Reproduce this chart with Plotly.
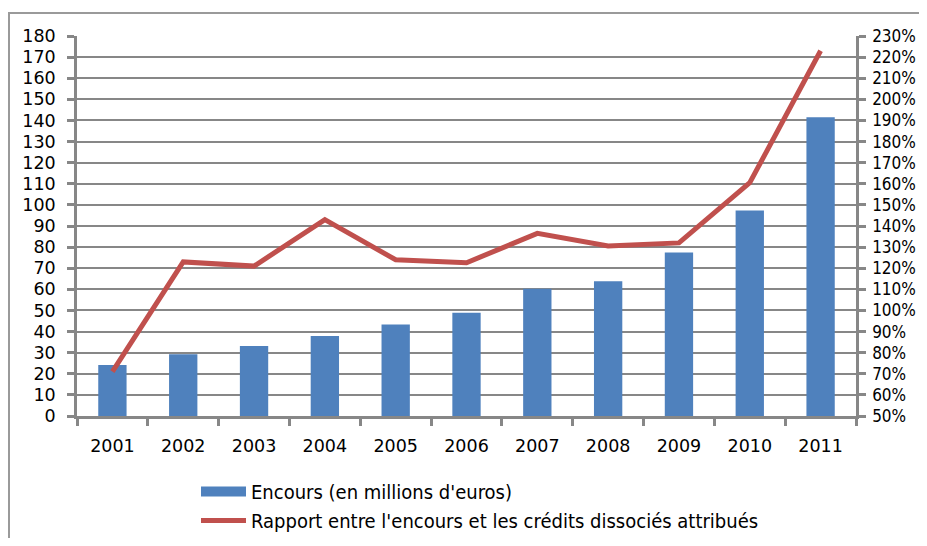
import plotly.graph_objects as go

years = ["2001", "2002", "2003", "2004", "2005", "2006", "2007", "2008", "2009", "2010", "2011"]
encours = [24.2, 29.2, 33.2, 37.9, 43.4, 48.9, 60.3, 63.8, 77.5, 97.3, 141.5]
rapport = [71, 123, 121, 143, 124, 122.6, 136.5, 130.5, 132, 160.5, 223]

# the page body has an 8px default margin; keep the figure inside the window (no scrollbars)
OFF = 8
W, H = 927 - 2 * OFF, 546 - 2 * OFF
PL, PR, PT, PB = 77, 856, 36, 416          # plot area in window pixels
L, T = PL - OFF, PT - OFF
pw, ph = PR - PL, PB - PT
R, B = W - L - pw, H - T - ph

grid = "#878787"
font = "DejaVu Sans, Verdana, sans-serif"
condfont = "DejaVu Sans Condensed, Liberation Sans Narrow, DejaVu Sans"
bar_color = "#4F81BD"
line_color = "#C0504D"

fig = go.Figure()
fig.add_trace(go.Bar(x=years, y=encours, name="Encours (en millions d'euros)",
                     marker=dict(color=bar_color, line=dict(width=0)), showlegend=False))
fig.add_trace(go.Scatter(x=years, y=rapport, yaxis="y2", mode="lines",
                         name="Rapport entre l'encours et les crédits dissociés attribués",
                         line=dict(color=line_color, width=5), showlegend=False))
# legend entries
fig.add_trace(go.Scatter(x=[None], y=[None], mode="lines", name="Encours (en millions d'euros)",
                         line=dict(color=bar_color, width=12)))
fig.add_trace(go.Scatter(x=[None], y=[None], mode="lines", yaxis="y2",
                         name="Rapport entre l'encours et les crédits dissociés attribués",
                         line=dict(color=line_color, width=5)))

def px_x(x):
    # x in window pixels
    return (x - PL) / pw

def px_y(y):
    return (PB - y) / ph

fig.update_layout(
    width=W, height=H,
    margin=dict(l=L, r=R, t=T, b=B, autoexpand=False),
    paper_bgcolor="white", plot_bgcolor="white",
    bargap=0.6,
    font=dict(family=font, size=17.5, color="black"),
    xaxis=dict(type="category", showgrid=False, showline=True, linecolor=grid, linewidth=2.5,
               ticks="outside", ticklen=7, tickwidth=2.5, tickcolor=grid, automargin=False,
               tickson="boundaries", tickfont=dict(size=17.5), ticklabelstandoff=12),
    yaxis=dict(range=[0, 180], dtick=10, showgrid=True, gridcolor=grid, gridwidth=2,
               showline=True, linecolor=grid, linewidth=2.5, ticks="outside", ticklen=7,
               tickwidth=2.5, tickcolor=grid, zeroline=False, automargin=False,
               tickfont=dict(size=17.5), ticklabelstandoff=8),
    yaxis2=dict(range=[50, 230], dtick=10, overlaying="y", side="right", showgrid=False,
                showline=True, linecolor=grid, linewidth=2.5, ticks="outside", ticklen=7,
                tickwidth=2.5, tickcolor=grid, ticksuffix="%", zeroline=False, automargin=False,
                tickfont=dict(family=condfont, size=17), ticklabelstandoff=3),
    showlegend=True,
    legend=dict(x=px_x(196), y=px_y(472), xanchor="left", yanchor="top",
                orientation="v", tracegroupgap=0, itemwidth=45,
                font=dict(family=condfont, size=20),
                bgcolor="rgba(0,0,0,0)"),
    shapes=[
        dict(type="line", xref="paper", yref="paper", x0=px_x(8), x1=px_x(940),
             y0=px_y(13), y1=px_y(13), line=dict(color="#9a9a9a", width=2)),
        dict(type="line", xref="paper", yref="paper", x0=px_x(9), x1=px_x(9),
             y0=px_y(13), y1=px_y(560), line=dict(color="#9a9a9a", width=2)),
    ],
)

fig.write_html("out.html")
